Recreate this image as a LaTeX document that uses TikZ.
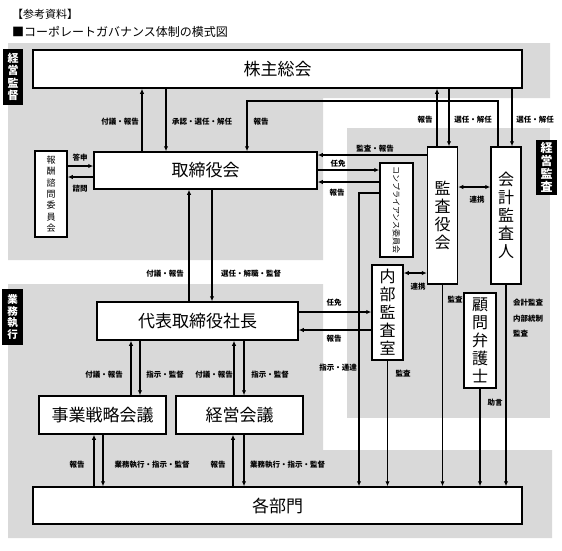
\documentclass[tikz,border=0pt]{standalone}
\usepackage{fontspec}
\setmainfont{Noto Sans CJK JP}
\usetikzlibrary{arrows.meta,calc}
\definecolor{bg}{HTML}{D9D9D9}
\tikzset{
 box/.style={draw, line width=1.5pt, fill=white, inner sep=0pt, font=\fontsize{17}{20}\selectfont},
 vbox/.style={draw, line width=1.5pt, fill=white, inner sep=0pt, align=center, font=\fontsize{16}{18}\selectfont},
 lbl/.style={font=\bfseries\fontsize{7.5}{9}\selectfont, inner sep=0pt},
 arr/.style={line width=1.2pt, -{Latex[length=5pt,width=4.5pt]}},
 darr/.style={line width=1.2pt, {Latex[length=5pt,width=4.5pt]}-{Latex[length=5pt,width=4.5pt]}},
 tag/.style={fill=black, text=white, align=center, inner sep=0pt, font=\bfseries\fontsize{11}{12.5}\selectfont},
}
\begin{document}
\begin{tikzpicture}[x=1pt,y=-1pt]
\useasboundingbox (0,0) rectangle (562,550);
% background regions
\fill[bg] (8,43) -- (550,43) -- (550,98) -- (323,98) -- (323,260) -- (8,260) -- cycle;
\fill[bg] (347,128) rectangle (550,418);
\fill[bg] (8,284) -- (323,284) -- (323,450) -- (552,450) -- (552,538) -- (8,538) -- cycle;
% titles
\node[anchor=west, inner sep=0pt, font=\fontsize{11}{13}\selectfont] (title1) at (12,14) {【参考資料】};
\node[anchor=west, inner sep=0pt, font=\fontsize{12}{14}\selectfont] (title2) at (12,32) {■コーポレートガバナンス体制の模式図};
% side tags
\node[tag, minimum width=20pt, minimum height=56pt] (tagA) at (13,77) {経\\営\\監\\督};
\node[tag, minimum width=21pt, minimum height=56pt, font=\bfseries\fontsize{10.5}{11.5}\selectfont] (tagB) at (12.5,317) {業\\務\\執\\行};
\node[tag, minimum width=21pt, minimum height=55pt, font=\bfseries\fontsize{12}{13}\selectfont] (tagC) at (546.5,167.5) {経\\営\\監\\査};
% boxes
\node[box, minimum width=489pt, minimum height=38pt] (kabu) at (277.5,69) {株主総会};
\node[box, minimum width=223pt, minimum height=37pt] (tori) at (205.5,170.5) {取締役会};
\node[vbox, minimum width=32pt, minimum height=86pt, font=\fontsize{9}{11.3}\selectfont] (hoshu) at (51,194) {報\\酬\\諮\\問\\委\\員\\会};
\node[vbox, minimum width=33pt, minimum height=94pt] (comp) at (396.5,210) {};
\node[rotate=-90, inner sep=0pt, font=\fontsize{8}{9}\selectfont] (compt) at (comp.center) {コンプライアンス委員会};
\node[vbox, minimum width=30pt, minimum height=137pt] (kansa) at (442.5,215.5) {監\\査\\役\\会};
\node[vbox, minimum width=30pt, minimum height=137pt] (kaikei) at (506,215.5) {会\\計\\監\\査\\人};
\node[vbox, minimum width=31pt, minimum height=95pt] (naibu) at (387.5,312.5) {内\\部\\監\\査\\室};
\node[vbox, minimum width=32pt, minimum height=95pt] (komon) at (480,340.5) {顧\\問\\弁\\護\\士};
\node[box, minimum width=201pt, minimum height=38pt] (daihyo) at (197.5,321) {代表取締役社長};
\node[box, minimum width=127pt, minimum height=38pt] (jigyo) at (102.5,415) {事業戦略会議};
\node[box, minimum width=127pt, minimum height=38pt] (keiei) at (239.5,415) {経営会議};
\node[box, minimum width=489pt, minimum height=37pt] (kakubu) at (277.5,505.5) {各部門};
% x positions
\coordinate (x142) at (142,0); \coordinate (x166) at (166,0);
\coordinate (x247) at (247,0); \coordinate (x498) at (498,0);
\coordinate (x512) at (512,0); \coordinate (x437) at (437,0);
\coordinate (x449) at (449,0); \coordinate (x359) at (359,0);
\coordinate (x189) at (189,0); \coordinate (x212) at (212,0);
\coordinate (x131) at (131,0); \coordinate (x140) at (140,0);
\coordinate (x234) at (234,0); \coordinate (x244) at (244,0);
\coordinate (x94) at (94,0); \coordinate (x103) at (103,0);
\coordinate (x233) at (233,0);
\coordinate (y101) at (0,101); \coordinate (y155) at (0,155);
\coordinate (y166) at (0,166); \coordinate (y177) at (0,177);
\coordinate (y170) at (0,170); \coordinate (y182) at (0,182);
\coordinate (y193) at (0,193); \coordinate (y187) at (0,187);
\coordinate (y273) at (0,273); \coordinate (y312) at (0,312);
\coordinate (y330) at (0,330);
\coordinate (k1) at (x498 |- y101); \coordinate (k2) at (x247 |- y101);
\coordinate (c1) at (x359 |- y193);
% connectors
\draw[arr] (tori.north -| x142) -- (kabu.south -| x142);
\draw[arr] (kabu.south -| x166) -- (tori.north -| x166);
\draw[arr] (kaikei.north -| x498) -- (k1) -- (k2) -- (tori.north -| x247);
\draw[arr] (kansa.north -| x437) -- (kabu.south -| x437);
\draw[arr] (kabu.south -| x449) -- (kansa.north -| x449);
\draw[arr] (kabu.south -| x512) -- (kaikei.north -| x512);
\draw[arr] (kansa.west |- y155) -- (tori.east |- y155);
\draw[arr] (tori.east |- y170) -- (comp.west |- y170);
\draw[arr] (comp.west |- y182) -- (tori.east |- y182);
\draw[arr] (hoshu.east |- y166) -- (tori.west |- y166);
\draw[arr] (tori.west |- y177) -- (hoshu.east |- y177);
\draw[darr] (kansa.east |- y187) -- (kaikei.west |- y187);
\draw[darr] (naibu.east |- y273) -- (kansa.west |- y273);
\draw[arr] (comp.west |- y193) -- (c1) -- (kakubu.north -| x359);
\draw[arr] (daihyo.north -| x189) -- (tori.south -| x189);
\draw[arr] (tori.south -| x212) -- (daihyo.north -| x212);
\draw[arr] (daihyo.east |- y312) -- (naibu.west |- y312);
\draw[arr] (naibu.west |- y330) -- (daihyo.east |- y330);
\draw[arr] (jigyo.north -| x131) -- (daihyo.south -| x131);
\draw[arr] (daihyo.south -| x140) -- (jigyo.north -| x140);
\draw[arr] (keiei.north -| x234) -- (daihyo.south -| x234);
\draw[arr] (daihyo.south -| x244) -- (keiei.north -| x244);
\draw[arr] (kakubu.north -| x94) -- (jigyo.south -| x94);
\draw[arr] (jigyo.south -| x103) -- (kakubu.north -| x103);
\draw[arr] (kakubu.north -| x233) -- (keiei.south -| x233);
\draw[arr] (keiei.south -| x244) -- (kakubu.north -| x244);
\draw[arr] (naibu.south) -- (naibu.south |- kakubu.north);
\draw[arr] (kansa.south) -- (kansa.south |- kakubu.north);
\draw[arr] (komon.south) -- (komon.south |- kakubu.north);
\draw[arr] (kaikei.south) -- (kaikei.south |- kakubu.north);
% labels
\node[lbl] (L1) at (120,122) {付議・報告};
\node[lbl] (L2) at (202,122) {承認・選任・解任};
\node[lbl] (L3) at (261,122) {報告};
\node[lbl] (L4) at (425,120) {報告};
\node[lbl] (L5) at (473,120) {選任・解任};
\node[lbl] (L6) at (535,120) {選任・解任};
\node[lbl] (L7) at (375,149) {監査・報告};
\node[lbl] (L8) at (338,164) {任免};
\node[lbl] (L9) at (337,193) {報告};
\node[lbl] (L10) at (80,158) {答申};
\node[lbl] (L11) at (80,189) {諮問};
\node[lbl] (L12) at (477,200) {連携};
\node[lbl] (L13) at (418,287) {連携};
\node[lbl] (L14) at (165,274) {付議・報告};
\node[lbl] (L15) at (251,274) {選任・解職・監督};
\node[lbl] (L16) at (334,303) {任免};
\node[lbl] (L17) at (334,339) {報告};
\node[lbl] (L18) at (338,368) {指示・通達};
\node[lbl] (L19) at (403,374) {監査};
\node[lbl] (L20) at (455,300) {監査};
\node[lbl, anchor=west] (L21) at (513,303) {会計監査};
\node[lbl, anchor=west] (L22) at (513,319) {内部統制};
\node[lbl, anchor=west] (L23) at (513,334) {監査};
\node[lbl] (L24) at (495,403) {助言};
\node[lbl] (L25) at (104,375) {付議・報告};
\node[lbl] (L26) at (165,375) {指示・監督};
\node[lbl] (L27) at (214,375) {付議・報告};
\node[lbl] (L28) at (270,375) {指示・監督};
\node[lbl] (L29) at (77,465) {報告};
\node[lbl] (L30) at (152,465) {業務執行・指示・監督};
\node[lbl] (L31) at (218,465) {報告};
\node[lbl, anchor=west] (L32) at (250,465) {業務執行・指示・監督};
\end{tikzpicture}
\end{document}
